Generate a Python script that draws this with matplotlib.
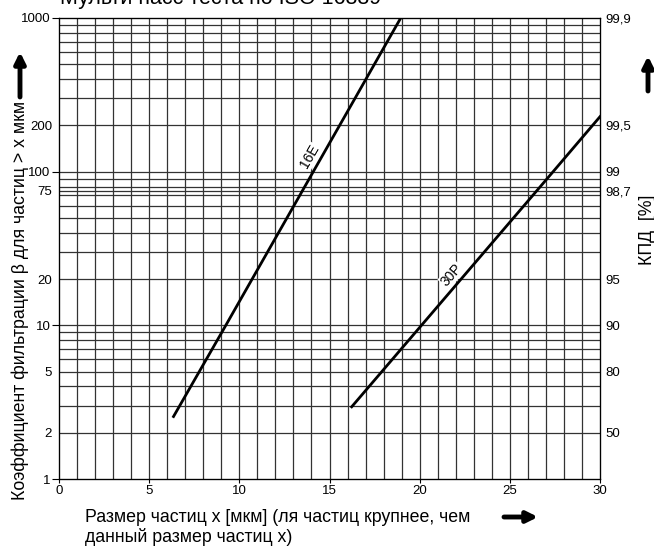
import numpy as np
import matplotlib
matplotlib.use('Agg')
import matplotlib.pyplot as plt

plt.rcParams['font.family'] = ['Liberation Sans', 'DejaVu Sans']

# кривые бета-коэффициента для двух фильтроэлементов (прямые в лог. масштабе)
x_16e = [6.35, 9.25, 14.1, 18.95]
beta_16e = [2.55, 10, 100, 1000]
x_30p = [16.23, 20.1, 27.4, 30.0]
beta_30p = [2.95, 10, 100, 228]

# подписи осей
x_ticks = [0, 5, 10, 15, 20, 25, 30]
beta_decades = [1, 10, 100, 1000]
beta_extra = [2, 5, 20, 75, 200]
eff_ticks = [2, 5, 10, 20, 75, 100, 200, 1000]
eff_labels = ['50', '80', '90', '95', '98,7', '99', '99,5', '99,9']

W, H = 654, 547
fig = plt.figure(figsize=(W / 100, H / 100), dpi=100)
ax = fig.add_axes([59 / W, 1 - 479 / H, 541 / W, 461 / H])

ax.set_xlim(0, 30)
ax.set_yscale('log')
ax.set_ylim(1, 1000)

# сетка: каждая единица по x, 1..9 в каждой декаде и линия 75 по y
grid_kw = dict(color='#333333', linewidth=0.9, zorder=1)
for gx in range(1, 30):
    ax.axvline(gx, **grid_kw)
grid_y = [d * k for d in [1, 10, 100] for k in range(1, 10)] + [75]
for gy in grid_y:
    if gy > 1:
        ax.axhline(gy, **grid_kw)

ax.set_xticks(x_ticks)
ax.set_yticks(beta_decades)
ax.set_yticklabels([str(v) for v in beta_decades])
ax.set_yticks(beta_extra, minor=True)
ax.set_yticklabels([str(v) for v in beta_extra], minor=True)
ax.tick_params(axis='x', length=3, width=0.8, labelsize=9.5, pad=1.5)
ax.tick_params(axis='y', which='major', length=5, width=0.8,
               labelsize=9.5, pad=1)
ax.tick_params(axis='y', which='minor', length=0, labelsize=9.5, pad=5)
for s in ax.spines.values():
    s.set_linewidth(0.9)

ax.plot(x_16e, beta_16e, color='black', lw=2, zorder=4)
ax.plot(x_30p, beta_30p, color='black', lw=2, zorder=4)

# подписи кривых
box = dict(facecolor='white', edgecolor='none', pad=0.5)
ax.text(13.92, 126, '16E', rotation=60, ha='center', va='center',
        fontsize=10, bbox=box, zorder=3)
ax.text(21.78, 21.3, '30P', rotation=49, ha='center', va='center',
        fontsize=10, bbox=box, zorder=3)

# правая шкала КПД
ax2 = ax.twinx()
ax2.set_yscale('log')
ax2.set_ylim(1, 1000)
ax2.set_yticks(eff_ticks)
ax2.set_yticklabels(eff_labels)
ax2.yaxis.set_minor_locator(matplotlib.ticker.NullLocator())
ax2.tick_params(length=0, labelsize=9.5, pad=4)

fig.text(60 / W, 1 - 4 / H, 'Мульти пасс теста по ISO 16889', fontsize=15.5,
         ha='left', va='baseline')

fig.text(20 / W, 1 - 300 / H, 'Коэффициент фильтрации β для частиц > x мкм',
         rotation=90, ha='center', va='center', fontsize=12.8)
fig.text(648 / W, 1 - 230 / H, 'КПД  [%]', rotation=90, ha='center',
         va='center', fontsize=12.8)

fig.text(85 / W, 1 - 517 / H, 'Размер частиц x [мкм] (ля частиц крупнее, чем',
         ha='left', va='center', fontsize=12.8)
fig.text(85 / W, 1 - 537 / H, 'данный размер частиц x)',
         ha='left', va='center', fontsize=12.8)

arrow = dict(arrowstyle='-|>', color='black', lw=3.5, mutation_scale=16,
             shrinkA=0, shrinkB=0)
ax.annotate('', xy=(20, H - 52), xytext=(20, H - 97),
            xycoords='figure pixels', textcoords='figure pixels',
            arrowprops=arrow, annotation_clip=False)
ax.annotate('', xy=(648, H - 56), xytext=(648, H - 91),
            xycoords='figure pixels', textcoords='figure pixels',
            arrowprops=arrow, annotation_clip=False)
ax.annotate('', xy=(538, H - 517), xytext=(504, H - 517),
            xycoords='figure pixels', textcoords='figure pixels',
            arrowprops=arrow, annotation_clip=False)

fig.savefig('out.png', dpi=100)
